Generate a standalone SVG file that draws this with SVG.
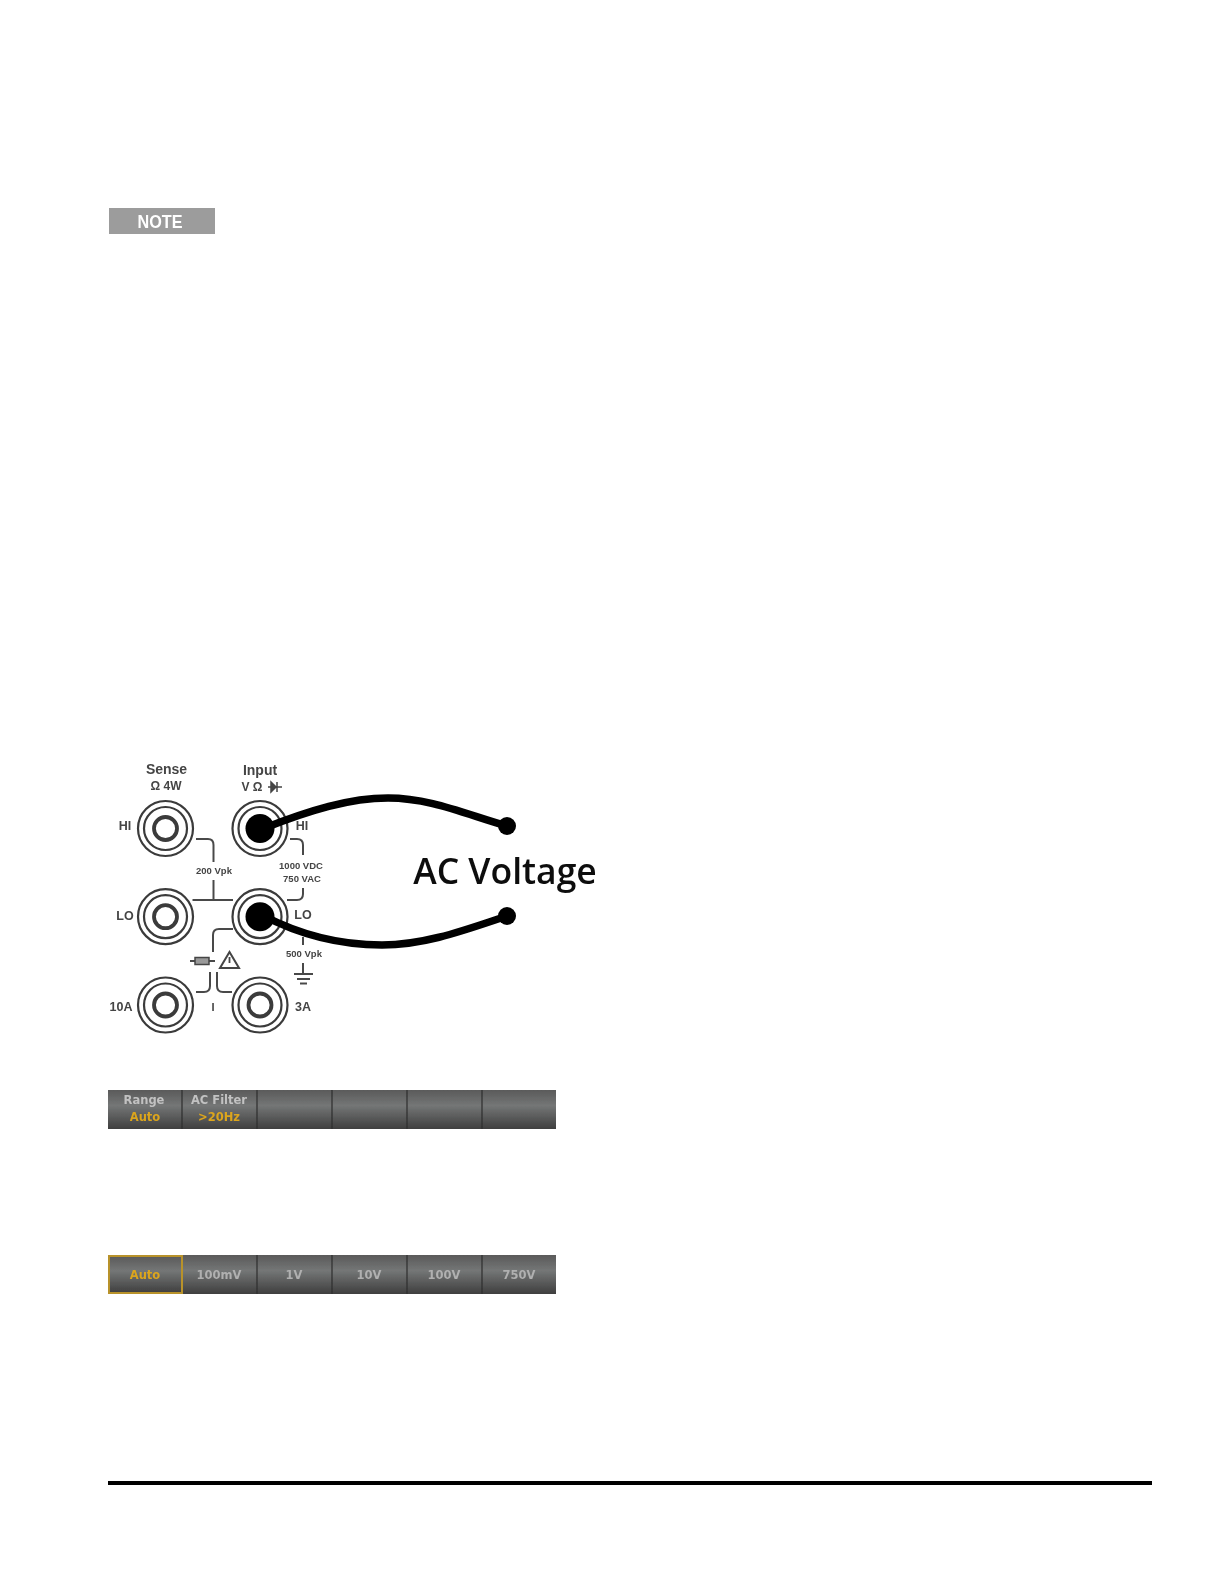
<svg xmlns="http://www.w3.org/2000/svg" width="1224" height="1584" viewBox="0 0 1224 1584">
<style>
.ring{fill:#fff;stroke:#3a3a3a}
.t{font-family:"Liberation Sans",Arial,sans-serif;fill:#444;text-anchor:middle}
.w{stroke:#4a4a4a;stroke-width:2;fill:none;stroke-linejoin:round}
.lead{stroke:#000;stroke-width:7.500;fill:none;stroke-linecap:round}
.btn{font-family:"DejaVu Sans",sans-serif;font-weight:700;font-size:11.500px;text-anchor:middle;fill:#c2c2c2}
.dim{fill:#b0b0b0}
.y{fill:#dca51e}
.sep{stroke:#2e2e2e;stroke-width:1.2}
</style>
<defs>
<linearGradient id="bar" x1="0" y1="0" x2="0" y2="1"><stop offset="0" stop-color="#5a5a5a"/><stop offset=".4" stop-color="#747676"/><stop offset="1" stop-color="#3f3f3f"/></linearGradient>
<filter id="soft" x="-5%" y="-5%" width="110%" height="110%"><feGaussianBlur stdDeviation="0.6"/></filter>
<g id="jack"><circle r="27.500" class="ring" stroke-width="2.200"/><circle r="21.500" class="ring" stroke-width="2.200"/><circle r="11.500" class="ring" stroke-width="3.800"/></g>
</defs>
<rect width="1224" height="1584" fill="#fff"/>
<g id="note" filter="url(#soft)"><rect x="109" y="208" width="106" height="26" fill="#9c9c9c"/><text x="160" y="227.500" font-family="'Liberation Sans',sans-serif" font-weight="700" font-size="18" fill="#fff" text-anchor="middle" textLength="45" lengthAdjust="spacingAndGlyphs">NOTE</text></g>
<g id="panel" filter="url(#soft)">
<g id="wiring">
<path class="w" d="M196 839H208Q213.500 839 213.500 845V862M213.500 880V900M192.500 900H233"/>
<path class="w" d="M290 839H297Q303 839 303 845V855M303 888V894Q303 900 297 900H287"/>
<path class="w" d="M233 929H219Q213 929 213 935V952"/>
<path class="w" d="M303 937V945M303 963V974"/>
<path class="w" d="M210 972V986Q210 992 204 992H196"/>
<path class="w" d="M217 972V986Q217 992 223 992H232"/>
</g>
<g id="j1"><use href="#jack" x="165.500" y="828.500"/></g>
<g id="j2"><use href="#jack" x="260" y="828.500"/></g>
<g id="j3"><use href="#jack" x="165.500" y="916.700"/></g>
<g id="j4"><use href="#jack" x="260" y="916.700"/></g>
<g id="j5"><use href="#jack" x="165.500" y="1005"/></g>
<g id="j6"><use href="#jack" x="260" y="1005"/></g>
<text class="t" x="166.500" y="774" font-size="14" font-weight="700">Sense</text>
<text class="t" x="166" y="790" font-size="12" font-weight="700">Ω 4W</text>
<text class="t" x="260" y="775" font-size="14" font-weight="700">Input</text>
<text class="t" x="252" y="791" font-size="12" font-weight="700">V Ω</text>
<path d="M268 787H282M271 782L276 787L271 792ZM277 782V792" stroke="#444" stroke-width="1.500" fill="#444"/>
<text class="t" x="125" y="830" font-size="12.500" font-weight="700">HI</text>
<text class="t" x="302" y="830" font-size="12.500" font-weight="700">HI</text>
<text class="t" x="125" y="920" font-size="12.500" font-weight="700">LO</text>
<text class="t" x="303" y="919" font-size="12.500" font-weight="700">LO</text>
<text class="t" x="121" y="1011" font-size="12.500" font-weight="700">10A</text>
<text class="t" x="303" y="1011" font-size="12.500" font-weight="700">3A</text>
<text class="t" x="214" y="874" font-size="9.500" font-weight="700">200 Vpk</text>
<text class="t" x="301" y="869" font-size="9.500" font-weight="700">1000 VDC</text>
<text class="t" x="302" y="882" font-size="9.500" font-weight="700">750 VAC</text>
<text class="t" x="304" y="957" font-size="9.500" font-weight="700">500 Vpk</text>
<text class="t" x="213" y="1011" font-size="11" font-weight="700">I</text>
<g id="fuse"><path class="w" d="M190 961H215"/><rect x="195" y="957.500" width="14" height="7" fill="#999" stroke="#444" stroke-width="1.500"/></g>
<g id="warn"><path d="M220 968L229.500 952L239 968Z" fill="#fff" stroke="#444" stroke-width="2"/><path d="M229.500 957V963" stroke="#444" stroke-width="1.800"/></g>
<g id="ground"><path class="w" d="M294 974H313M297 979H310M300 983.500H307"/></g>
</g>
<g id="connectors" filter="url(#soft)">
<path class="lead" d="M262 829C310 810 350 798 388 798C430 798 465 814 507 826"/>
<path class="lead" d="M262 915C300 935 340 945 382 945C425 945 465 930 507 916"/>
</g>
<g id="terminals" filter="url(#soft)">
<circle cx="260" cy="828.500" r="14.500"/><circle cx="260" cy="916.700" r="14.500"/>
<circle cx="507" cy="826" r="9"/><circle cx="507" cy="916" r="9"/>
<text x="505" y="884" font-family="'Open Sans','Noto Sans',sans-serif" font-size="35.500" font-weight="600" fill="#111" text-anchor="middle">AC Voltage</text>
</g>
<g id="softkeys1" filter="url(#soft)">
<rect x="108" y="1090" width="448" height="39" fill="url(#bar)"/>
<path class="sep" d="M182 1090V1129M257 1090V1129M332 1090V1129M407 1090V1129M482 1090V1129"/>
<text class="btn" x="144" y="1104">Range</text><text class="btn y" x="145" y="1121">Auto</text>
<text class="btn" x="219" y="1104">AC Filter</text><text class="btn y" x="219" y="1121">&gt;20Hz</text>
</g>
<g id="softkeys2" filter="url(#soft)">
<rect x="108" y="1255" width="448" height="39" fill="url(#bar)"/>
<path class="sep" d="M257 1255V1294M332 1255V1294M407 1255V1294M482 1255V1294"/>
<rect x="109" y="1256" width="73" height="37" fill="url(#bar)" stroke="#b8922a" stroke-width="2"/>
<text class="btn y" x="145" y="1279">Auto</text>
<text class="btn dim" x="219" y="1279">100mV</text>
<text class="btn dim" x="294" y="1279">1V</text>
<text class="btn dim" x="369" y="1279">10V</text>
<text class="btn dim" x="444" y="1279">100V</text>
<text class="btn dim" x="519" y="1279">750V</text>
</g>
<rect id="rule" x="108" y="1481" width="1044" height="4" fill="#000"/>
</svg>
